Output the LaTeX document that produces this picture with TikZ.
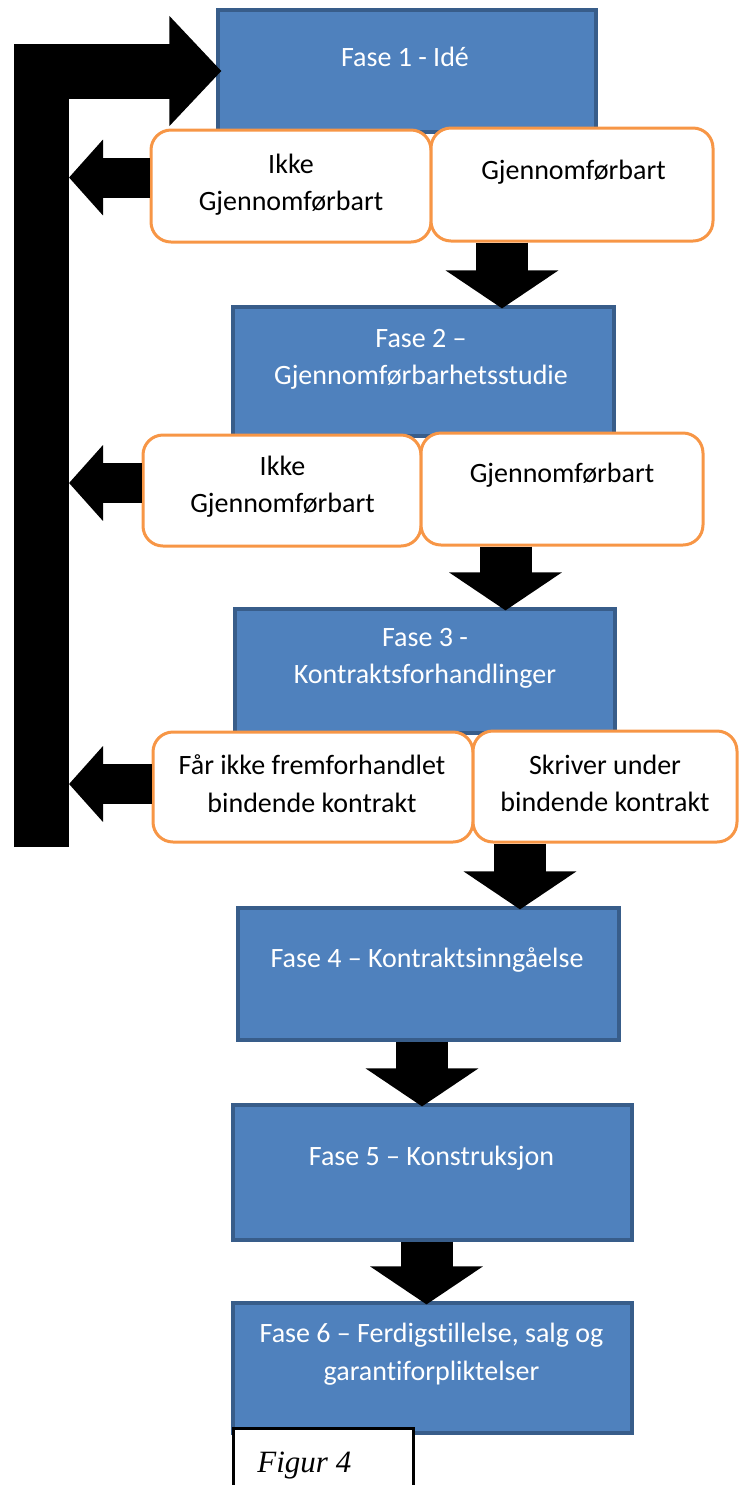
\documentclass[tikz,border=0pt]{standalone}
\usepackage{fontspec}
\setmainfont{Carlito}[Ligatures=NoCommon]
\newfontfamily\figurfont{Liberation Serif}
\usepackage{xcolor}
\usepackage{tikz}
\usetikzlibrary{arrows.meta}

\definecolor{faseblaa}{HTML}{4F81BD}
\definecolor{fasekant}{HTML}{385D8A}
\definecolor{valgoransje}{HTML}{F79646}

\tikzset{
    fase/.style={draw=fasekant, line width=1.6pt, fill=faseblaa, rectangle, inner sep=0pt},
    fasetekst/.style={text=white, align=center, inner sep=0pt, font=\fontsize{14}{18.75}\selectfont},
    valg/.style={draw=valgoransje, line width=1.5pt, fill=white, rectangle, rounded corners=10pt, inner sep=0pt},
    valgtekst/.style={text=black, align=center, inner sep=0pt, font=\fontsize{14}{18.75}\selectfont},
    pil/.style={line width=26pt, shorten >=-1.5pt, -{Triangle[length=19pt, width=55.5pt]}},
    tilbake/.style={line width=20pt, -{Triangle[length=17pt, width=37pt]}},
    retur/.style={line width=27.5pt, line join=miter, shorten >=-2.5pt, -{Triangle[length=26pt, width=53.5pt]}}
}

\begin{document}
\begin{tikzpicture}[x=0.5pt, y=-0.5pt]
        \useasboundingbox (0,0) rectangle (741,1485);

        % faser
        \node[fase, minimum width=189pt, minimum height=61pt] (f1) at (407,71) {};
        \node[fase, minimum width=190.5pt, minimum height=64.5pt] (f2) at (423.5,371.5) {};
        \node[fase, minimum width=190pt, minimum height=62pt] (f3) at (425,671) {};
        \node[fase, minimum width=190.5pt, minimum height=66pt] (f4) at (428.5,974) {};
        \node[fase, minimum width=199.5pt, minimum height=67.5pt] (f5) at (432.5,1172.5) {};
        \node[fase, minimum width=199.5pt, minimum height=65pt] (f6) at (432.5,1368) {};

        \node[fasetekst] (f1t) at (405,57) {Fase 1 - Idé};
        \node[fasetekst] (f2t) at (421,359.5) {Fase 2 –\\Gjennomførbarhetsstudie};
        \node[fasetekst] (f3t) at (425,658.5) {Fase 3 -\\Kontraktsforhandlinger};
        \node[fasetekst] (f4t) at (427,960) {Fase 4 – Kontraktsinngåelse};
        \node[fasetekst] (f5t) at (431.5,1158) {Fase 5 – Konstruksjon};
        \node[fasetekst] (f6t) at (431.5,1354) {Fase 6 – Ferdigstillelse, salg og\\garantiforpliktelser};

        % valg
        \node[valg, minimum width=140pt, minimum height=56pt] (g1l) at (291,186) {};
        \node[valg, minimum width=141pt, minimum height=56.5pt] (g1r) at (572,184.5) {};
        \node[valg, minimum width=139pt, minimum height=55.5pt] (g2l) at (282,490.5) {};
        \node[valg, minimum width=141pt, minimum height=56pt] (g2r) at (562,489) {};
        \node[valg, minimum width=160pt, minimum height=55pt] (g3l) at (313,787) {};
        \node[valg, minimum width=132pt, minimum height=55.5pt] (g3r) at (605,786.5) {};

        \node[valgtekst] (g1lt) at (291,184.5) {Ikke\\Gjennomførbart};
        \node[valgtekst] (g1rt) at (573.5,172) {Gjennomførbart};
        \node[valgtekst] (g2lt) at (282.5,486.5) {Ikke\\Gjennomførbart};
        \node[valgtekst] (g2rt) at (562,475) {Gjennomførbart};
        \node[valgtekst] (g3lt) at (312,783.5) {Får ikke fremforhandlet\\bindende kontrakt};
        \node[valgtekst] (g3rt) at (605,783.5) {Skriver under\\bindende kontrakt};

        % piler nedover
        \coordinate (p1) at ([xshift=-35pt]g1r.south);
        \coordinate (p2) at ([xshift=-28.25pt]g2r.south);
        \coordinate (p3) at ([xshift=-42.5pt]g3r.south);
        \coordinate (p4) at ([xshift=-3.25pt]f4.south);
        \coordinate (p5) at ([xshift=-3pt]f5.south);
        \draw[pil] (p1) -- (p1 |- f2.north);
        \draw[pil] (p2) -- (p2 |- f3.north);
        \draw[pil] (p3) -- (p3 |- f4.north);
        \draw[pil] (p4) -- (p4 |- f5.north);
        \draw[pil] (p5) -- (p5 |- f6.north);

        % tilbake til idé
        \coordinate (barbunn) at (41.5,847);
        \coordinate (barkant) at (69,0);
        \draw[retur] (barbunn) |- (f1.west);
        \coordinate (r1) at ([yshift=4.25pt]g1l.west);
        \coordinate (r2) at ([yshift=3.75pt]g2l.west);
        \coordinate (r3) at ([yshift=1.5pt]g3l.west);
        \draw[tilbake] (r1) -- (r1 -| barkant);
        \draw[tilbake] (r2) -- (r2 -| barkant);
        \draw[tilbake] (r3) -- (r3 -| barkant);

        % figurtekst
        \node[draw=black, line width=1.5pt, fill=white, minimum width=90pt, minimum height=42pt, inner sep=0pt] (fig) at (323,1470) {};
        \node[anchor=base west, inner sep=0pt, font=\figurfont\itshape\fontsize{15.5}{18}\selectfont] (figt) at (257,1472) {Figur 4};
\end{tikzpicture}
\end{document}
